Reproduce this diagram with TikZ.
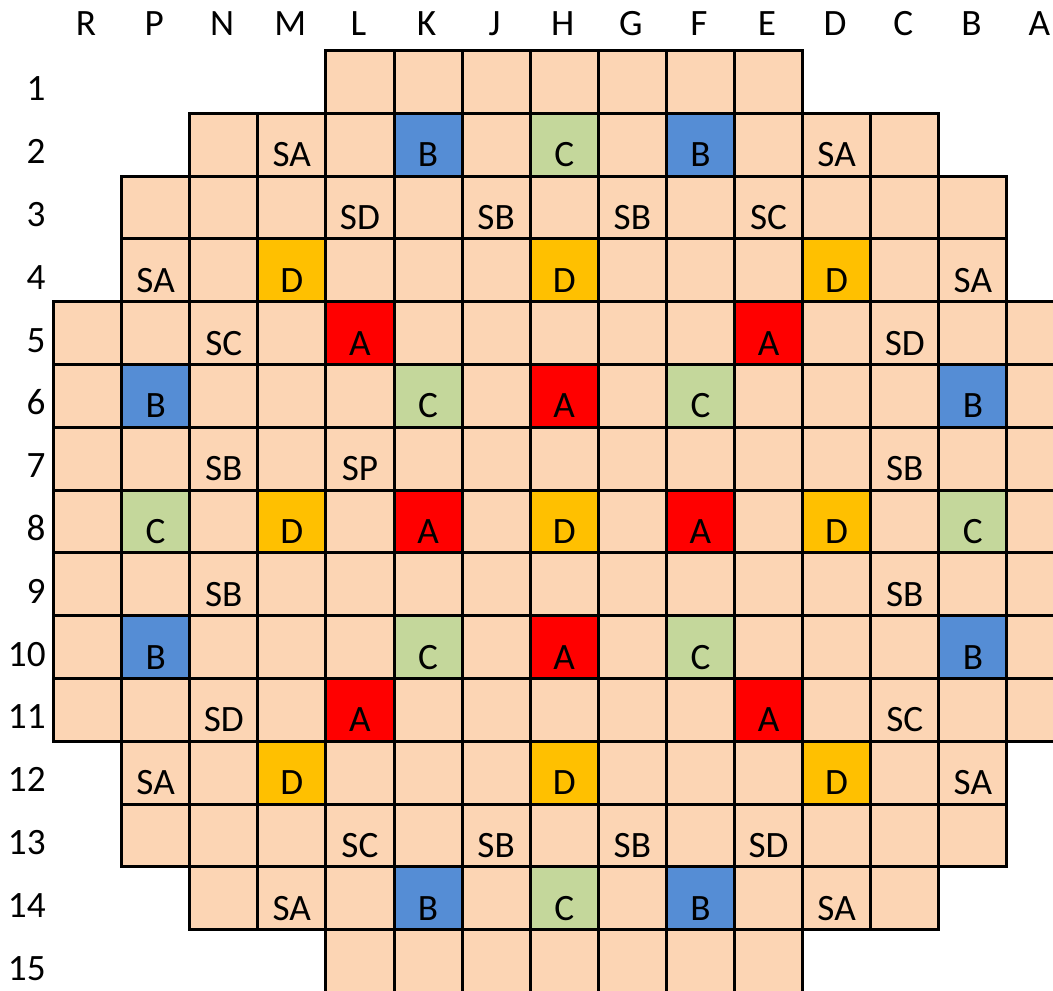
\documentclass[tikz,border=0pt]{standalone}
\usepackage{fontspec}
\setmainfont{Carlito}
\usepackage{tikz}
\usetikzlibrary{positioning}
\definecolor{CorePeach}{RGB}{252,213,180}
\definecolor{CoreBlue}{RGB}{85,141,213}
\definecolor{CoreGreen}{RGB}{196,215,155}
\definecolor{CoreOrange}{RGB}{255,192,0}
\definecolor{CoreRed}{RGB}{255,0,0}

\begin{document}
\begin{tikzpicture}[x=0.5pt, y=-0.5pt,
  assy/.style={draw=black, line width=1.5pt, anchor=north west, inner sep=0pt,
               minimum width=34.05pt, minimum height=31.4pt},
  tag/.style={anchor=base, inner sep=0pt, font=\fontsize{18.6}{22}\selectfont}]
  \useasboundingbox (0,0) rectangle (1053,990);
  \clip (0,0) rectangle (1053,990);

  % core outline, row by row (first/last column index, R=0 ... A=14)
  \foreach \r/\a/\b in {1/4/10, 2/2/12, 3/1/13, 4/1/13, 5/0/14, 6/0/14, 7/0/14, 8/0/14,
                        9/0/14, 10/0/14, 11/0/14, 12/1/13, 13/1/13, 14/2/12, 15/4/10}
    \foreach \c in {\a,...,\b}
      \node[assy, fill=CorePeach] (a-\c-\r) at ({52+68.1*\c}, {49+62.8*(\r-1)}) {};

  % coloured assemblies
  \foreach \c/\r/\col/\txt in {5/2/CoreBlue/B, 7/2/CoreGreen/C, 9/2/CoreBlue/B,
      3/4/CoreOrange/D, 7/4/CoreOrange/D, 11/4/CoreOrange/D,
      4/5/CoreRed/A, 10/5/CoreRed/A,
      1/6/CoreBlue/B, 5/6/CoreGreen/C, 7/6/CoreRed/A, 9/6/CoreGreen/C, 13/6/CoreBlue/B,
      1/8/CoreGreen/C, 3/8/CoreOrange/D, 5/8/CoreRed/A, 7/8/CoreOrange/D, 9/8/CoreRed/A,
      11/8/CoreOrange/D, 13/8/CoreGreen/C,
      1/10/CoreBlue/B, 5/10/CoreGreen/C, 7/10/CoreRed/A, 9/10/CoreGreen/C, 13/10/CoreBlue/B,
      4/11/CoreRed/A, 10/11/CoreRed/A,
      3/12/CoreOrange/D, 7/12/CoreOrange/D, 11/12/CoreOrange/D,
      5/14/CoreBlue/B, 7/14/CoreGreen/C, 9/14/CoreBlue/B}
  {
    \node[assy, fill=\col] (h-\c-\r) at (a-\c-\r.north west) {};
    \node[tag] at ([yshift=5.5pt]h-\c-\r.south) {\txt};
  }

  % plain labels
  \foreach \c/\r/\txt in {3/2/SA, 11/2/SA,
      4/3/SD, 6/3/SB, 8/3/SB, 10/3/SC,
      1/4/SA, 13/4/SA,
      2/5/SC, 12/5/SD,
      2/7/SB, 4/7/SP, 12/7/SB,
      2/9/SB, 12/9/SB,
      2/11/SD, 12/11/SC,
      1/12/SA, 13/12/SA,
      4/13/SC, 6/13/SB, 8/13/SB, 10/13/SD,
      3/14/SA, 11/14/SA}
    \node[tag] at ([yshift=5.5pt]a-\c-\r.south) {\txt};

  % column and row labels
  \foreach \l [count=\c from 0] in {R,P,N,M,L,K,J,H,G,F,E,D,C,B,A}
    \node[tag] (col-\l) at ({52+68.1*(\c+0.5)}, 36) {\l};
  \foreach \r in {1,...,15}
    \node[tag, anchor=base east] (row-\r) at (46, {49+62.8*\r-11}) {\r};
\end{tikzpicture}
\end{document}
